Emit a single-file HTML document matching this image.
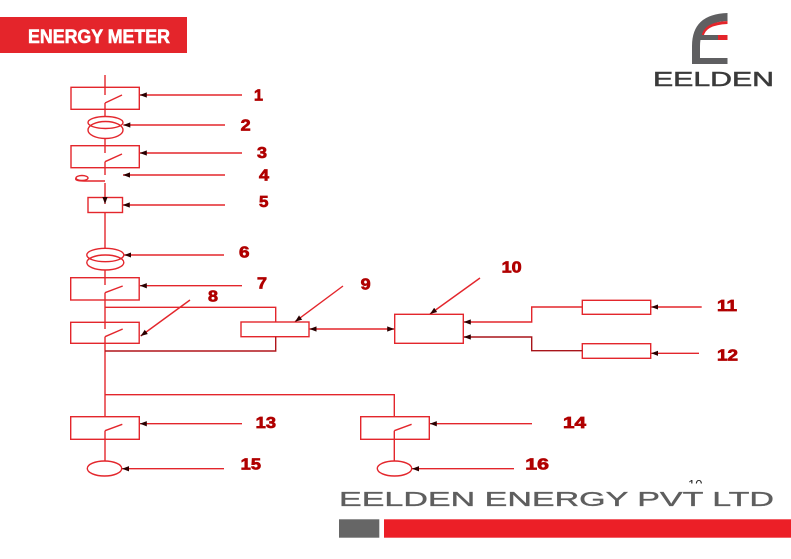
<!DOCTYPE html>
<html><head><meta charset="utf-8"><style>
html,body{margin:0;padding:0;background:#fff;}
svg{display:block;}
</style></head><body>
<svg width="791" height="559" viewBox="0 0 791 559" xmlns="http://www.w3.org/2000/svg">
<defs>
<marker id="ah" viewBox="0 0 8 6" refX="8" refY="3" markerWidth="7" markerHeight="6" orient="auto-start-reverse" markerUnits="userSpaceOnUse">
<path d="M0,0 L8,3 L0,6 z" fill="#2a0000"/>
</marker>
<clipPath id="c10"><rect x="680" y="470" width="30" height="13.5"/></clipPath>
</defs>
<rect width="791" height="559" fill="#fff"/>

<!-- header -->
<rect x="0" y="17" width="187" height="36" fill="#e4252b"/>
<text x="28" y="43" font-family="Liberation Sans, sans-serif" font-weight="bold" font-size="19.5" fill="#fff" stroke="#fff" stroke-width="0.6" textLength="142" lengthAdjust="spacingAndGlyphs">ENERGY METER</text>

<!-- logo -->
<path d="M692,64 L692,46 Q692,14 727.5,13 L727.5,21 Q700,22 700,46 L700,64 Z" fill="#5f5f61"/>
<path d="M701.5,37 Q703,22 727.5,21 L727.5,24 Q705,25 703.5,37 Z" fill="#e4252b"/>
<rect x="692" y="58" width="35.5" height="6" fill="#5f5f61"/>
<rect x="700" y="35" width="18" height="5" fill="#5f5f61"/>
<rect x="718" y="35" width="9.5" height="5" fill="#e4252b"/>
<text x="653" y="86" font-family="Liberation Sans, sans-serif" font-size="20" fill="#3a3a3a" stroke="#3a3a3a" stroke-width="0.5" textLength="121" lengthAdjust="spacingAndGlyphs">EELDEN</text>

<g fill="none" stroke="#e3262c" stroke-width="1.4">
<!-- main vertical chain -->
<line x1="105" y1="75" x2="105" y2="95"/>
<rect x="71" y="87.3" width="68.3" height="22"/>
<line x1="105" y1="103" x2="122" y2="95"/>
<line x1="105" y1="103" x2="105" y2="117"/>
<ellipse cx="105.5" cy="122.5" rx="17.5" ry="6"/>
<ellipse cx="105.5" cy="130" rx="17.5" ry="8.5"/>
<line x1="105" y1="138.5" x2="105" y2="153"/>
<rect x="71" y="145.7" width="68.3" height="22"/>
<line x1="105" y1="161.7" x2="122" y2="154"/>
<line x1="105" y1="161.7" x2="105" y2="175"/>
<!-- item 4 -->
<ellipse cx="82" cy="178" rx="6" ry="2.5"/>
<path d="M76,178 Q74,181 84,181 L105,181"/>
<line x1="105" y1="183" x2="105" y2="199"/>
<rect x="88" y="197.5" width="34.5" height="15"/>
<line x1="105" y1="212.3" x2="105" y2="248"/>
<ellipse cx="105.3" cy="255" rx="18.5" ry="6.7"/>
<ellipse cx="105.3" cy="262.5" rx="18.5" ry="7.5"/>
<line x1="105" y1="270" x2="105" y2="285"/>
<rect x="70.7" y="277.7" width="68.5" height="22.3"/>
<line x1="105" y1="292.7" x2="122.7" y2="286"/>
<line x1="105" y1="292.7" x2="105" y2="329"/>
<rect x="70.7" y="322.3" width="68.5" height="21"/>
<line x1="105" y1="336.7" x2="122.7" y2="329"/>
<line x1="105" y1="336.7" x2="105" y2="416.7"/>
<!-- box 9 loop -->
<polyline points="105,307.3 275.7,307.3 275.7,322"/>
<rect x="241" y="322" width="68" height="14.7"/>
<polyline points="275.7,336.7 275.7,351 105,351" stroke="#b0151a"/>
<!-- box 10 -->
<rect x="394.7" y="314.3" width="68.6" height="29"/>
<rect x="582.3" y="300.3" width="68.4" height="14"/>
<rect x="582.3" y="343.7" width="68.4" height="14.6"/>
<!-- bottom branch -->
<polyline points="105,394.7 394.3,394.7 394.3,416.7"/>
<rect x="70.7" y="416.7" width="68.6" height="22.6"/>
<rect x="360.7" y="416.7" width="68.6" height="22.6"/>
<line x1="105" y1="430.7" x2="122.3" y2="424.3"/>
<line x1="105" y1="430.7" x2="105" y2="461"/>
<line x1="394.3" y1="430.7" x2="411.6" y2="424.3"/>
<line x1="394.3" y1="430.7" x2="394.3" y2="461"/>
<ellipse cx="104.5" cy="468.5" rx="17.2" ry="7.5"/>
<ellipse cx="394.5" cy="468.5" rx="17.2" ry="7.5"/>
</g>

<!-- arrows -->
<g fill="none" stroke="#e3262c" stroke-width="1.4" marker-end="url(#ah)">
<line x1="242" y1="95" x2="139.8" y2="95"/>
<line x1="225" y1="125" x2="123.3" y2="125"/>
<line x1="242" y1="153" x2="139.8" y2="153"/>
<line x1="225" y1="175" x2="123" y2="175"/>
<line x1="225" y1="205" x2="122.8" y2="205"/>
<line x1="224" y1="255" x2="124.2" y2="255"/>
<line x1="242" y1="285.7" x2="139.8" y2="285.7"/>
<line x1="190" y1="300" x2="140.7" y2="336"/>
<line x1="343" y1="286" x2="295" y2="321.7"/>
<line x1="480" y1="278" x2="430" y2="314"/>
<line x1="701.7" y1="307" x2="651.2" y2="307"/>
<line x1="699" y1="353.3" x2="651.2" y2="353.3"/>
<polyline points="582.3,307 531.7,307 531.7,322 463.8,322"/>
<polyline points="582.3,350.7 531.7,350.7 531.7,337 463.8,337" stroke="#a8151a"/>
<line x1="242" y1="423.7" x2="139.8" y2="423.7"/>
<line x1="532" y1="423.7" x2="429.8" y2="423.7"/>
<line x1="224" y1="468.7" x2="122" y2="468.7"/>
<line x1="514" y1="468.7" x2="412" y2="468.7"/>
</g>
<line x1="309.5" y1="329" x2="394.2" y2="329" stroke="#e3262c" stroke-width="1.4" marker-start="url(#ah)" marker-end="url(#ah)"/>
<line x1="105" y1="198" x2="105" y2="204" stroke="#e3262c" stroke-width="1.4" marker-end="url(#ah)"/>

<!-- labels -->
<g font-family="Liberation Sans, sans-serif" font-weight="bold" font-size="15.5" fill="#b00000" stroke="#b00000" stroke-width="0.7">
<text x="254" y="100.5" textLength="9" lengthAdjust="spacingAndGlyphs">1</text>
<text x="240.7" y="130.5" textLength="10" lengthAdjust="spacingAndGlyphs">2</text>
<text x="257" y="158.2" textLength="10" lengthAdjust="spacingAndGlyphs">3</text>
<text x="259" y="180.5" textLength="10" lengthAdjust="spacingAndGlyphs">4</text>
<text x="259" y="207.2" textLength="9.5" lengthAdjust="spacingAndGlyphs">5</text>
<text x="239" y="257.5" textLength="10.5" lengthAdjust="spacingAndGlyphs">6</text>
<text x="257" y="288.5" textLength="10" lengthAdjust="spacingAndGlyphs">7</text>
<text x="208" y="301.5" textLength="10" lengthAdjust="spacingAndGlyphs">8</text>
<text x="360.7" y="289.5" textLength="10" lengthAdjust="spacingAndGlyphs">9</text>
<text x="501.7" y="272.5" textLength="20" lengthAdjust="spacingAndGlyphs">10</text>
<text x="717" y="311.2" textLength="20" lengthAdjust="spacingAndGlyphs">11</text>
<text x="717" y="360.5" textLength="21" lengthAdjust="spacingAndGlyphs">12</text>
<text x="255.7" y="428.2" textLength="20.3" lengthAdjust="spacingAndGlyphs">13</text>
<text x="563" y="428.2" textLength="23" lengthAdjust="spacingAndGlyphs">14</text>
<text x="240.7" y="469.5" textLength="20.3" lengthAdjust="spacingAndGlyphs">15</text>
<text x="525.3" y="469.5" textLength="23.7" lengthAdjust="spacingAndGlyphs">16</text>
</g>

<!-- tiny clipped page number -->
<text x="688" y="489" font-family="Liberation Sans, sans-serif" font-size="13" fill="#222" clip-path="url(#c10)">10</text>

<!-- footer -->
<text x="339" y="506" font-family="Liberation Sans, sans-serif" font-size="20.5" fill="#5e5e5e" stroke="#5e5e5e" stroke-width="0.35" textLength="435" lengthAdjust="spacingAndGlyphs">EELDEN ENERGY PVT LTD</text>
<rect x="339" y="519.3" width="40.3" height="18.4" fill="#666"/>
<rect x="384" y="519.3" width="407" height="18.4" fill="#ec1f27"/>
</svg>
</body></html>
